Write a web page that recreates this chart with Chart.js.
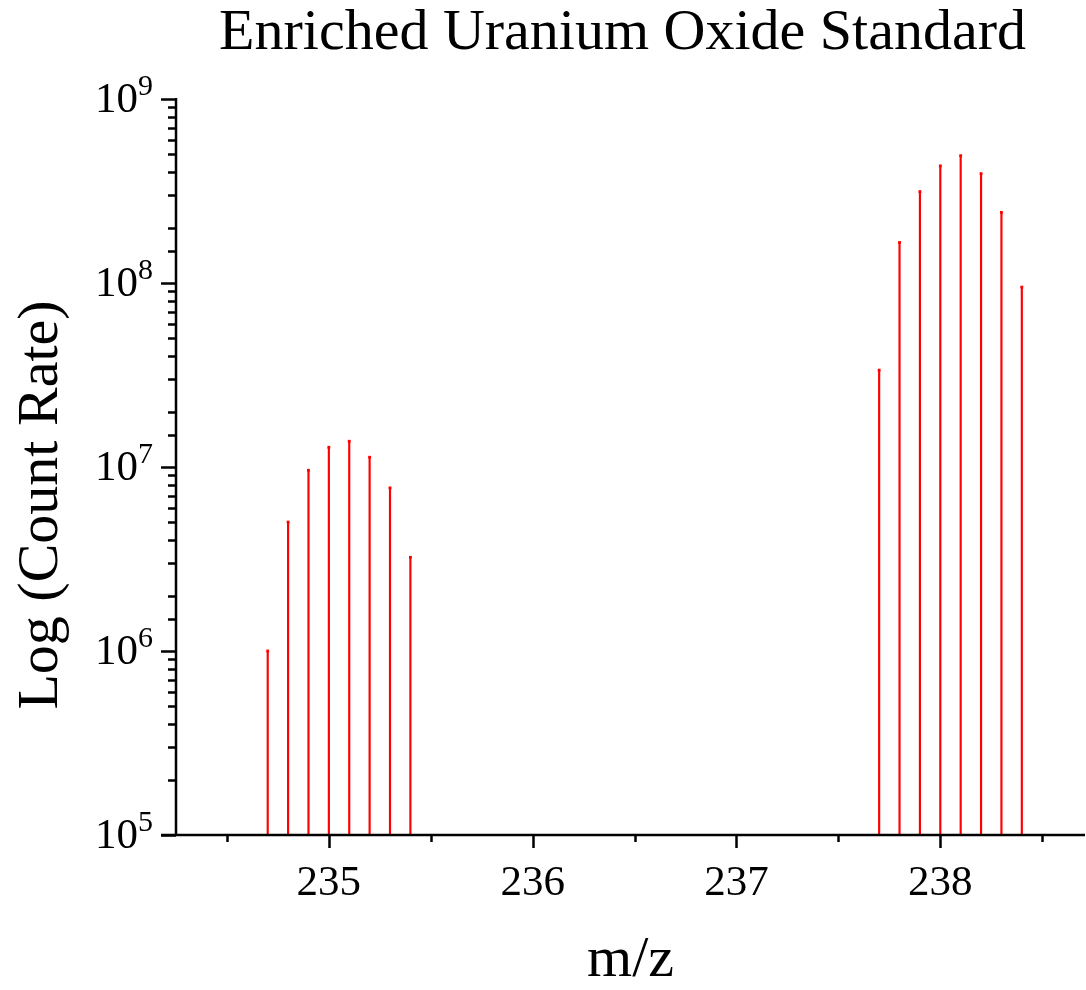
<!DOCTYPE html>
<html>
<head>
<meta charset="utf-8">
<script src="https://cdn.jsdelivr.net/npm/chart.js@4.4.1/dist/chart.umd.min.js"></script>
<style>
  html, body { margin: 0; padding: 0; background: #fff; }
  canvas { display: block; }
</style>
</head>
<body>
<canvas id="spectrum" width="1086" height="990"></canvas>
<script>
  'use strict';

  // m/z positions of the measured peaks
  var mzU235 = [234.7, 234.8, 234.9, 235.0, 235.1, 235.2, 235.3, 235.4];
  var mzU238 = [237.7, 237.8, 237.9, 238.0, 238.1, 238.2, 238.3, 238.4];

  // count rates
  var countsU235 = [1.0e6, 5.02e6, 9.6e6, 1.28e7, 1.38e7, 1.13e7, 7.7e6, 3.23e6];
  var countsU238 = [3.36e7, 1.66e8, 3.14e8, 4.33e8, 4.92e8, 3.93e8, 2.42e8, 9.5e7];

  var xMajorTicks = [235, 236, 237, 238];
  var yDecades = [1e5, 1e6, 1e7, 1e8, 1e9];
  var yTitle = 'Log (Count Rate)';

  var SERIF = "'Liberation Serif', 'Times New Roman', serif";

  function toPoints(xs, ys) {
    var pts = [];
    for (var i = 0; i < xs.length; i++) {
      pts.push({ x: xs[i], y: ys[i] });
    }
    return pts;
  }

  var peaks = toPoints(mzU235, countsU235).concat(toPoints(mzU238, countsU238));

  // draws axis lines, outside tick marks, the 10^n labels and the y title
  var axisPlugin = {
    id: 'axisPlugin',
    afterLayout: function(chart) {
      // centre the title a bit left of the plot area, like the original
      if (chart.titleBlock) {
        chart.titleBlock.left = chart.chartArea.left - 16;
        chart.titleBlock.right = chart.chartArea.right;
      }
    },
    afterDraw: function(chart) {
      var ctx = chart.ctx;
      var xs = chart.scales.x;
      var ys = chart.scales.y;
      var area = chart.chartArea;
      var i, v, px, py;

      ctx.save();
      ctx.strokeStyle = '#000';
      ctx.lineWidth = 2.5;
      ctx.lineCap = 'butt';

      // axis lines
      ctx.beginPath();
      ctx.moveTo(area.left, area.top - 1);
      ctx.lineTo(area.left, area.bottom);
      ctx.moveTo(area.left - 15, area.bottom);
      ctx.lineTo(area.right, area.bottom);
      ctx.stroke();

      // y ticks (major at decades, minor in between)
      ctx.beginPath();
      for (i = 0; i < ys.ticks.length; i++) {
        v = ys.ticks[i].value;
        if (v < ys.min || v > ys.max) continue;
        py = Math.round(ys.getPixelForValue(v)) + 0.5;
        var lg = Math.log10(v);
        var len = Math.abs(lg - Math.round(lg)) < 1e-6 ? 15 : 8;
        ctx.moveTo(area.left - len, py);
        ctx.lineTo(area.left, py);
      }
      ctx.stroke();

      // x ticks every 0.5
      ctx.beginPath();
      for (i = 0; i < xs.ticks.length; i++) {
        v = xs.ticks[i].value;
        px = Math.round(xs.getPixelForValue(v)) + 0.5;
        var xl = Math.abs(v - Math.round(v)) < 1e-6 ? 13 : 7;
        ctx.moveTo(px, area.bottom);
        ctx.lineTo(px, area.bottom + xl);
      }
      ctx.stroke();

      // y labels as 10 with raised exponent
      ctx.fillStyle = '#000';
      ctx.textAlign = 'right';
      ctx.textBaseline = 'middle';
      for (i = 0; i < yDecades.length; i++) {
        v = yDecades[i];
        py = ys.getPixelForValue(v);
        var exp = String(Math.round(Math.log10(v)));
        ctx.font = '30px ' + SERIF;
        var ew = ctx.measureText(exp).width;
        ctx.fillText(exp, 153, py - 12);
        ctx.font = '43px ' + SERIF;
        ctx.fillText('10', 153 - ew, py + 2);
      }

      // y axis title, rotated
      ctx.translate(42, 505);
      ctx.rotate(-Math.PI / 2);
      ctx.textAlign = 'center';
      ctx.font = '58px ' + SERIF;
      ctx.fillText(yTitle, 0, 0);
      ctx.restore();
    }
  };

  var chart = new Chart(document.getElementById('spectrum'), {
    type: 'bar',
    data: {
      datasets: [
        {
          label: 'stems',
          data: peaks,
          backgroundColor: '#ff0000',
          borderWidth: 0,
          barThickness: 1.5,
          grouped: false
        },
        {
          type: 'scatter',
          label: 'tops',
          data: peaks,
          pointStyle: 'rect',
          pointRadius: 2,
          backgroundColor: '#ff0000',
          borderColor: '#ff0000',
          borderWidth: 0
        }
      ]
    },
    options: {
      responsive: false,
      animation: false,
      layout: {
        autoPadding: false,
        padding: { top: 0, right: 1, bottom: 0, left: 0 }
      },
      plugins: {
        legend: { display: false },
        tooltip: { enabled: false },
        title: {
          display: true,
          text: 'Enriched Uranium Oxide Standard',
          color: '#000',
          font: { family: SERIF, size: 58, weight: 'normal', lineHeight: 1 },
          padding: { top: 5, bottom: 36 }
        }
      },
      scales: {
        x: {
          type: 'linear',
          min: 234.25,
          max: 238.71,
          offset: false,
          grid: { display: false, drawTicks: false },
          border: { display: false },
          afterFit: function(scale) {
            scale.height = 155;
            scale.paddingLeft = 0;
            scale.paddingRight = 0;
          },
          afterBuildTicks: function(scale) {
            var t = [];
            for (var v = 234.5; v <= 238.5 + 1e-9; v += 0.5) t.push({ value: v });
            scale.ticks = t;
          },
          ticks: {
            color: '#000',
            padding: 23,
            autoSkip: false,
            maxRotation: 0,
            font: { family: SERIF, size: 43 },
            callback: function(value) {
              return xMajorTicks.indexOf(value) >= 0 ? String(value) : '';
            }
          },
          title: {
            display: true,
            text: 'm/z',
            color: '#000',
            font: { family: SERIF, size: 58, lineHeight: 1 },
            padding: { top: 0, bottom: 0 }
          }
        },
        y: {
          type: 'logarithmic',
          min: 1e5,
          max: 1e9,
          grid: { display: false, drawTicks: false },
          border: { display: false },
          afterFit: function(scale) {
            scale.width = 176;
            scale.paddingTop = 0;
            scale.paddingBottom = 0;
          },
          ticks: { display: false }
        }
      }
    },
    plugins: [axisPlugin]
  });
</script>
</body>
</html>
